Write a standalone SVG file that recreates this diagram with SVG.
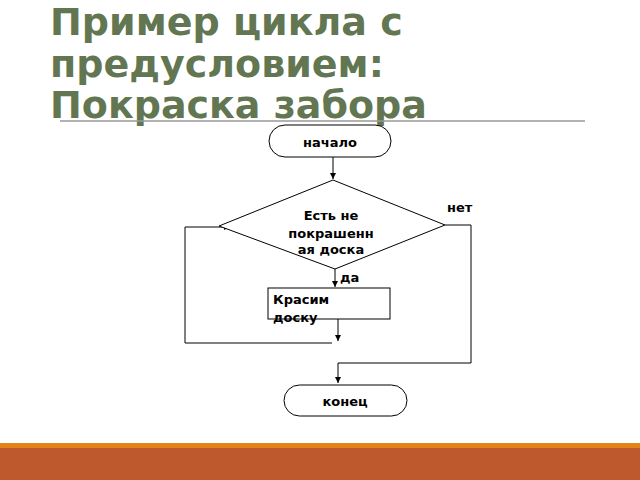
<svg xmlns="http://www.w3.org/2000/svg" width="640" height="480" viewBox="0 0 640 480">
<style>
.t{font-family:"DejaVu Sans",sans-serif;font-weight:bold;fill:#000;font-size:13px}
.s{fill:#fff;stroke:#000;stroke-width:1}
.c{fill:none;stroke:#000;stroke-width:1}
</style>
<defs><marker id="a" markerWidth="8" markerHeight="8" refX="6" refY="3" orient="auto" markerUnits="userSpaceOnUse"><path d="M0,0L6,3L0,6z" fill="#000"/></marker></defs>
<rect width="640" height="480" fill="#fff"/>
<g id="title" font-family="DejaVu Sans,sans-serif" font-weight="bold" font-size="38" fill="#637652">
<text x="50" y="35">Пример цикла с</text>
<text x="50" y="77">предусловием:</text>
<text x="50" y="118">Покраска забора</text>
</g>
<line x1="60" y1="121" x2="585" y2="121" stroke="#999" stroke-width="1.5"/>
<rect y="443" width="640" height="5" fill="#e38417"/>
<rect y="448" width="640" height="32" fill="#be592d"/>
<g id="connectors">
<line class="c" x1="333" y1="157" x2="333" y2="179" marker-end="url(#a)"/>
<polyline class="c" points="445,225 471,225 471,363 338,363 338,383" marker-end="url(#a)"/>
<line class="c" x1="335" y1="269" x2="335" y2="287" marker-end="url(#a)"/>
<line class="c" x1="338" y1="319" x2="338" y2="341" marker-end="url(#a)"/>
<polyline class="c" points="332,343 185,343 185,227 230,227" marker-end="url(#a)"/>
</g>
<g id="start"><rect class="s" x="269" y="125" width="122" height="32" rx="16"/><text class="t" x="330" y="147" text-anchor="middle">начало</text></g>
<g id="cond"><polygon class="s" points="219,226 333,180 445,225 335,269"/>
<text class="t" x="331" y="220" text-anchor="middle">Есть не</text>
<text class="t" x="331" y="238" text-anchor="middle">покрашенн</text>
<text class="t" x="331" y="254" text-anchor="middle">ая доска</text>
<text class="t" x="447" y="212">нет</text>
<text class="t" x="340" y="282">да</text></g>
<g id="paint"><rect class="s" x="268" y="288" width="122" height="31"/>
<text class="t" x="273" y="304">Красим</text><text class="t" x="273" y="322">доску</text></g>
<g id="end"><rect class="s" x="284" y="385" width="123" height="31" rx="15.5"/><text class="t" x="345" y="406" text-anchor="middle">конец</text></g>
</svg>
